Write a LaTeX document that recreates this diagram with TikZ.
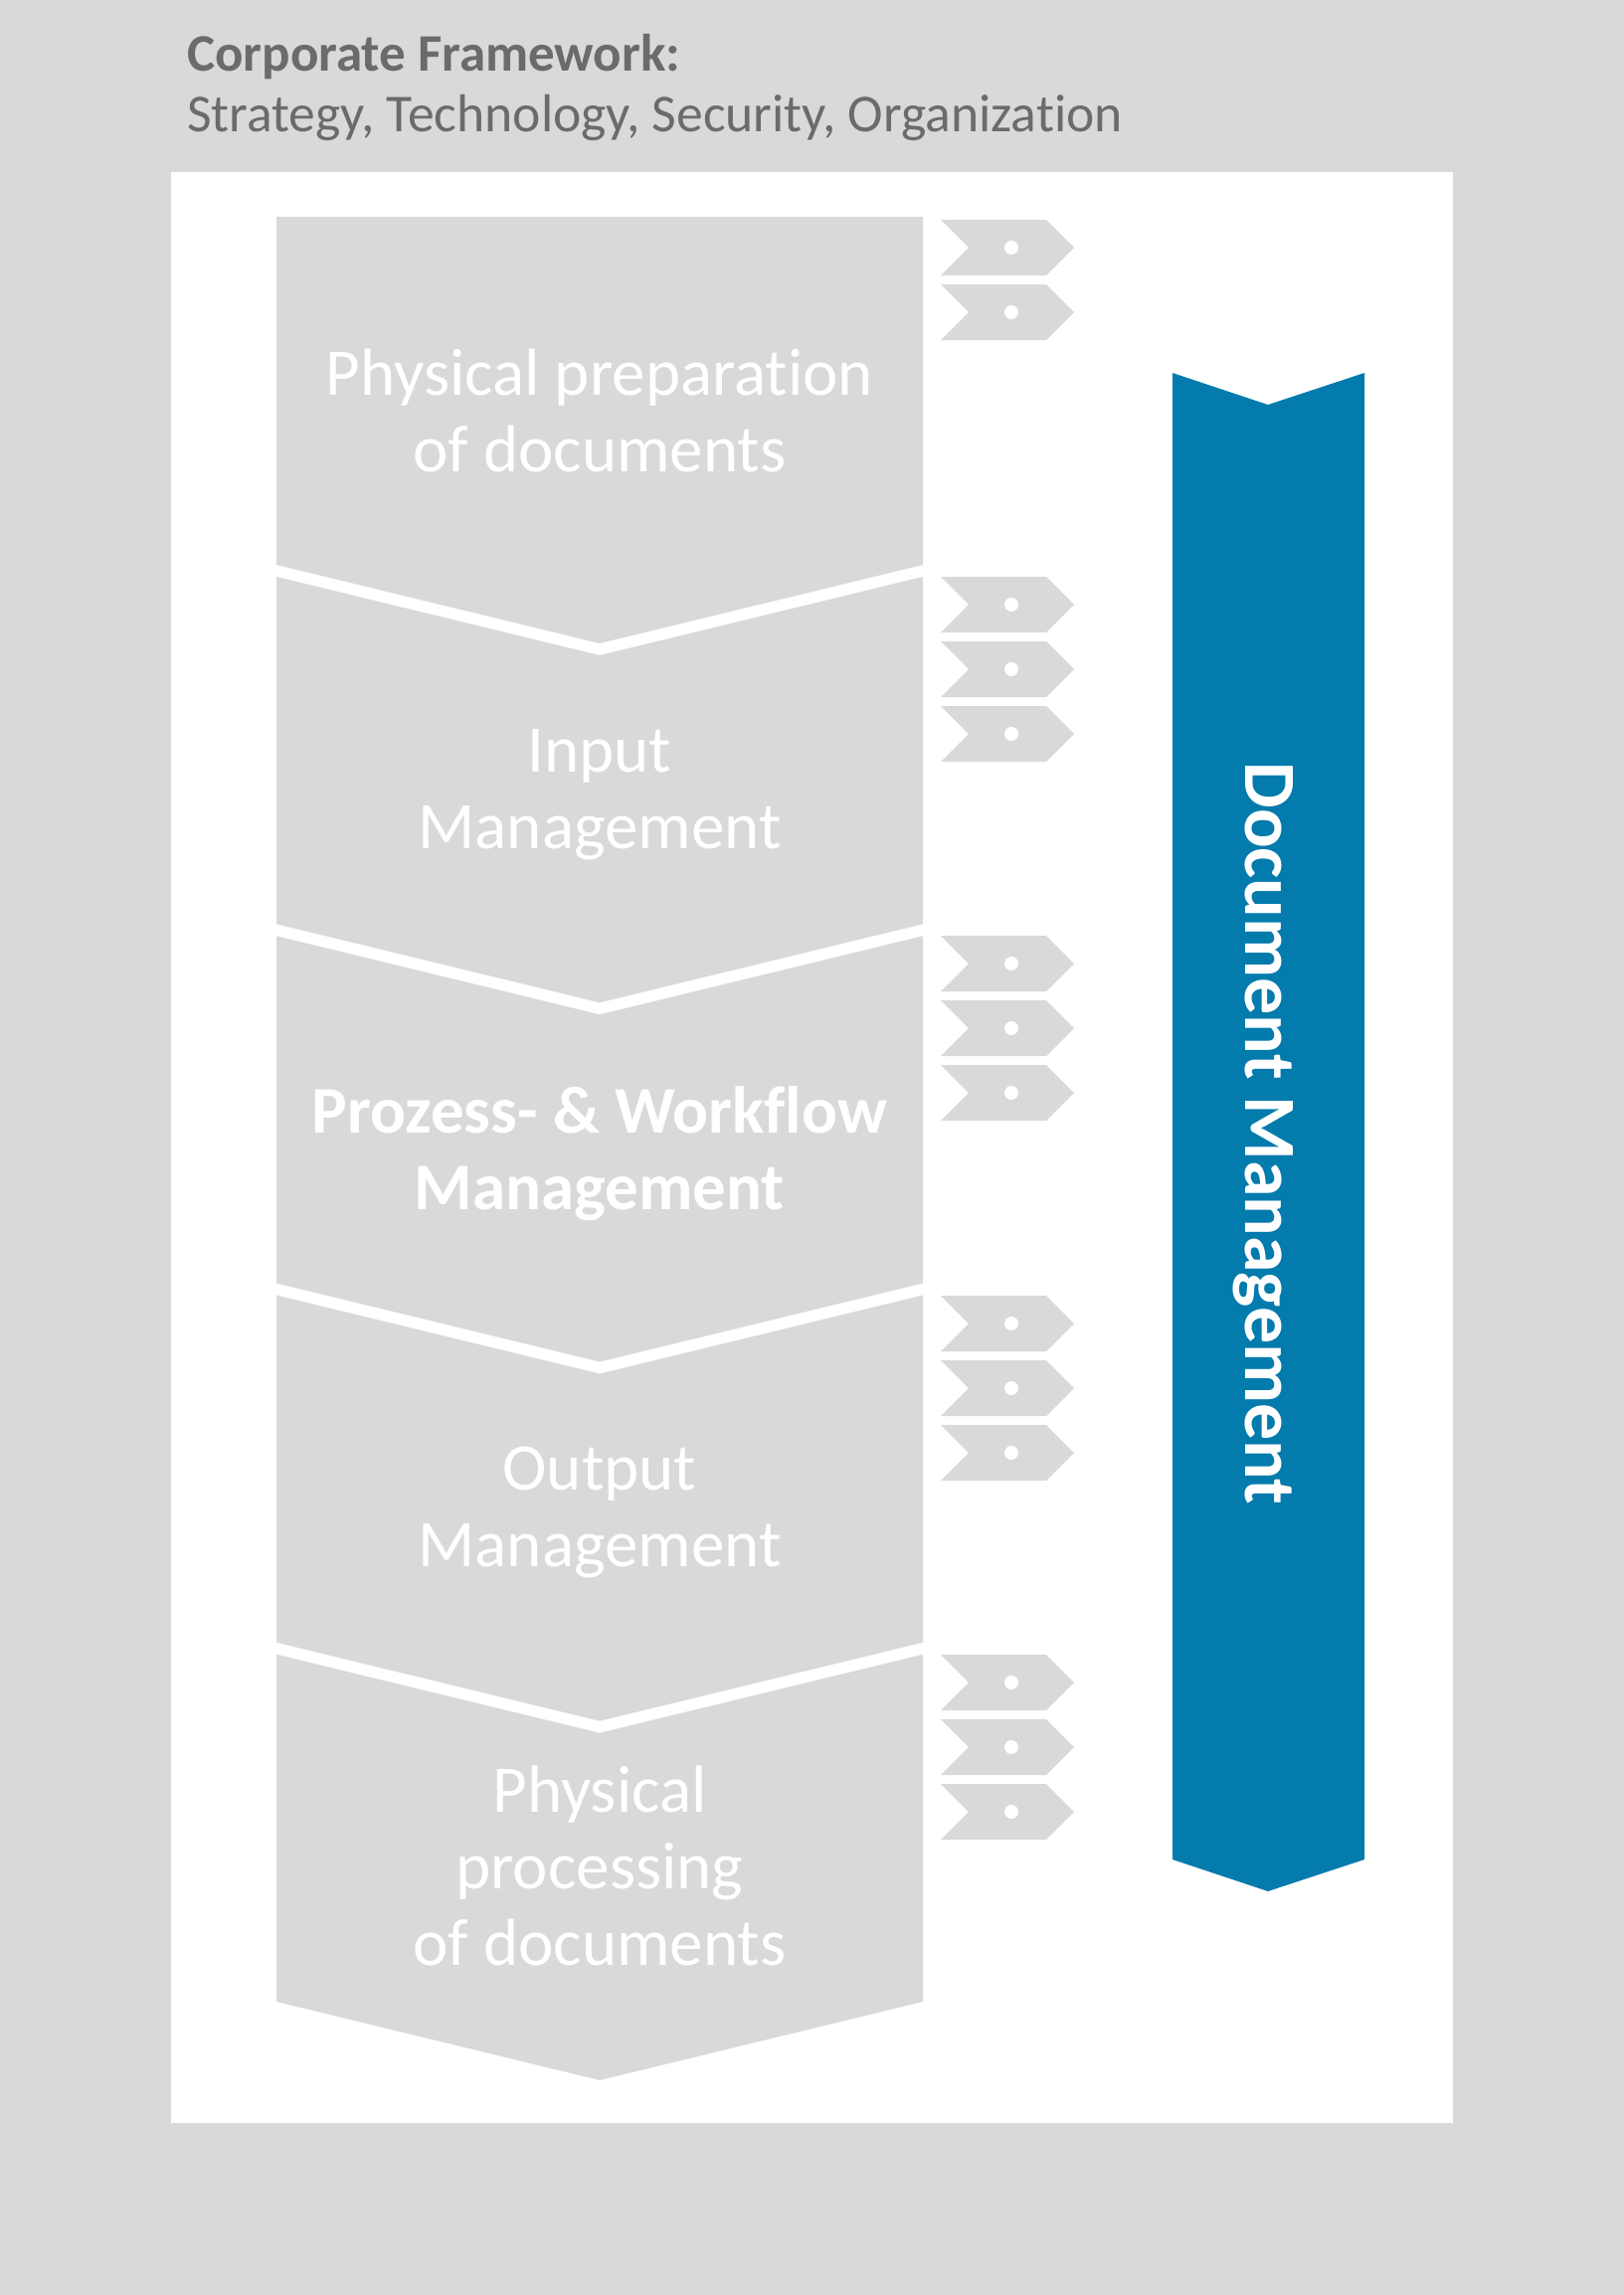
\documentclass[tikz,border=0pt]{standalone}
\usepackage{fontspec}
\setmainfont{Carlito}[Ligatures=CommonOff]
\definecolor{bg}{HTML}{D9D9D9}
\definecolor{ttl}{HTML}{6B6B6B}
\definecolor{dmblue}{RGB}{4,123,173}
\begin{document}
\begin{tikzpicture}[x=1pt,y=-1pt,
  chev/.style={fill=bg},
  chevtext/.style={text=white,align=center,font=\fontsize{67}{77}\selectfont},
  chevbold/.style={text=white,align=center,font=\bfseries\fontsize{67}{77}\selectfont},
  tagfill/.style={fill=bg},
  tagdot/.style={fill=white},
  ttltext/.style={text=ttl,anchor=base west,inner sep=0pt},
]
\fill[bg] (0,0) rectangle (1633,2308);
\useasboundingbox (0,0) rectangle (1633,2308);
\fill[white] (172,173) rectangle (1461,2135);

% title
\node[ttltext,font=\bfseries\fontsize{53}{60}\selectfont] (title) at (188,71) {Corporate Framework:};
\node[ttltext,font=\fontsize{53.6}{60}\selectfont] (subtitle) at (188,132) {Strategy, Technology, Security, Organization};

% chevrons
\fill[chev] (278,218) -- (928,218) -- (928,568) -- (603,647) -- (278,568) -- cycle;
\foreach \i in {1,2,3,4}{
  \pgfmathsetmacro{\t}{580+(\i-1)*361.25}
  \pgfmathsetmacro{\b}{568+\i*361.25}
  \fill[chev] (278,\t) -- (603,\t+79) -- (928,\t) -- (928,\b) -- (603,\b+79) -- (278,\b) -- cycle;
}

% chevron texts
\node[chevtext] (c1) at (603,413) {Physical preparation\\of documents};
\node[chevtext] (c2) at (603,799) {Input\\Management};
\node[chevbold] (c3) at (603,1160) {Prozess- \& Workflow\\Management};
\node[chevtext] (c4) at (603,1521) {Output\\Management};
\node[chevtext] (c5) at (603,1876) {Physical\\processing\\of documents};

% tags
\foreach \c in {249,314,608,673,738,969,1034,1099,1331,1396,1461,1692,1757,1822}{
  \fill[tagfill] (946,\c-28) -- (1052,\c-28) -- (1080,\c) -- (1052,\c+28) -- (946,\c+28) -- (974,\c) -- cycle;
  \fill[tagdot] (1017,\c) circle (7);
}

% blue arrow
\fill[dmblue] (1179,375) -- (1275,407) -- (1372,375) -- (1372,1870) -- (1275,1902) -- (1179,1870) -- cycle;
\node[text=white,rotate=-90,font=\bfseries\fontsize{74}{80}\selectfont] (dm) at (1270,1140) {Document Management};
\end{tikzpicture}
\end{document}
